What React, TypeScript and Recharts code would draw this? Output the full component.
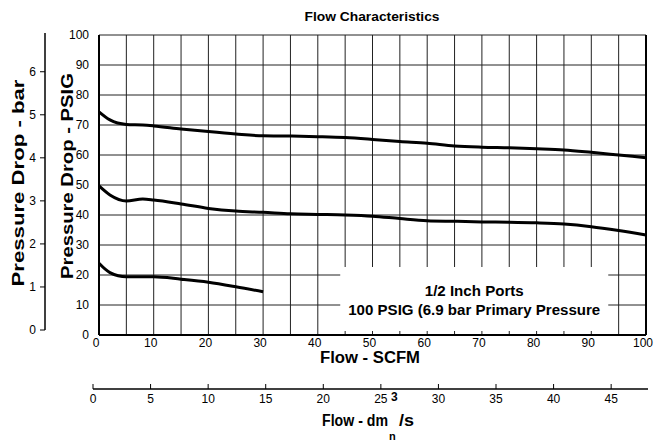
import React from 'react';
import { LineChart, Line, XAxis, YAxis, CartesianGrid, ReferenceArea } from 'recharts';

// ---------------------------------------------------------------------------
// Data
// ---------------------------------------------------------------------------

const flowTicks = [0, 5, 10, 15, 20, 25, 30, 35, 40, 45, 50, 55, 60, 65, 70, 75, 80, 85, 90, 95, 100];
const psigTicks = [0, 10, 20, 30, 40, 50, 60, 70, 80, 90, 100];
const barTicks = [0, 1, 2, 3, 4, 5, 6];
const dmTicks = [0, 5, 10, 15, 20, 25, 30, 35, 40, 45];

// SCFM values for the two long curves
const flowLong = [0, 2, 5, 8, 10, 15, 20, 25, 30, 35, 40, 45, 50, 55, 60, 65, 70, 75, 80, 85, 90, 95, 100];
const dropHigh = [74.4, 71.7, 70.2, 70, 69.7, 68.7, 67.8, 67, 66.4, 66.3, 66.1, 65.8, 65.2, 64.5, 63.9, 63, 62.6, 62.4, 62.1, 61.7, 60.9, 60, 59.1];
const dropMid = [49.7, 46.7, 44.7, 45.3, 45, 43.7, 42.2, 41.3, 40.9, 40.4, 40.2, 40, 39.6, 38.8, 38.1, 37.9, 37.7, 37.6, 37.4, 37, 36.1, 34.8, 33.3];

// short curve
const flowShort = [0, 2, 5, 10, 15, 20, 25, 30];
const dropLow = [23.9, 20.8, 19.4, 19.4, 18.6, 17.6, 16.1, 14.4];

const boxLines = ['1/2 Inch Ports', '100 PSIG (6.9 bar Primary Pressure'];

const FONT = '"Liberation Sans", Arial, Helvetica, sans-serif';

const toPoints = (xs: number[], ys: number[]) => xs.map((x, i) => ({ flow: x, drop: ys[i] }));

const highData = toPoints(flowLong, dropHigh);
const midData = toPoints(flowLong, dropMid);
const lowData = toPoints(flowShort, dropLow);

const tickStyle = { fill: '#000', fontSize: 12, fontFamily: FONT };

// ---------------------------------------------------------------------------
// Box label (two centred lines)
// ---------------------------------------------------------------------------

const BoxLabel = (props: any) => {
  const { viewBox } = props;
  if (!viewBox) return null;
  const cx = viewBox.x + viewBox.width / 2;
  return (
    <g fontFamily={FONT} fontWeight="bold" fontSize={14.5} fill="#000">
      <text x={cx} y={viewBox.y + 29} textAnchor="middle" textLength={99} lengthAdjust="spacingAndGlyphs">
        {boxLines[0]}
      </text>
      <text x={cx} y={viewBox.y + 48} textAnchor="middle" textLength={252} lengthAdjust="spacingAndGlyphs">
        {boxLines[1]}
      </text>
    </g>
  );
};

export default function App() {
  return (
    <div style={{ position: 'absolute', left: 0, top: 0, width: 669, height: 441, background: '#fff', fontFamily: FONT }}>
      {/* Main chart: PSIG vs SCFM */}
      <div style={{ position: 'absolute', left: 0, top: 0 }}>
        <LineChart width={669} height={441} margin={{ top: 35, right: 21, bottom: 76, left: 0 }}>
          <CartesianGrid stroke="#222" strokeWidth={1} />
          <XAxis
            type="number"
            dataKey="flow"
            domain={[0, 100]}
            ticks={flowTicks}
            interval={0}
            tickFormatter={(v: number) => (v % 10 === 0 ? String(v) : '')}
            tick={{ ...tickStyle, dx: -3 }}
            tickLine={false}
            tickSize={0}
            tickMargin={3}
            height={30}
            axisLine={{ stroke: '#000', strokeWidth: 2 }}
          />
          <YAxis
            type="number"
            domain={[0, 100]}
            ticks={psigTicks}
            interval={0}
            tick={tickStyle}
            tickLine={false}
            tickSize={6}
            tickMargin={4}
            width={99}
            axisLine={{ stroke: '#000', strokeWidth: 2 }}
          />
          <YAxis
            yAxisId="right"
            orientation="right"
            type="number"
            domain={[0, 100]}
            tick={false}
            tickLine={false}
            width={2}
            axisLine={{ stroke: '#000', strokeWidth: 2 }}
          />
          <ReferenceArea
            x1={44.1}
            x2={93.1}
            y1={1.3}
            y2={22.7}
            fill="#fff"
            fillOpacity={1}
            stroke="none"
            label={<BoxLabel />}
          />
          <Line data={highData} dataKey="drop" type="monotone" stroke="#000" strokeWidth={3} dot={false} isAnimationActive={false} />
          <Line data={midData} dataKey="drop" type="monotone" stroke="#000" strokeWidth={3} dot={false} isAnimationActive={false} />
          <Line data={lowData} dataKey="drop" type="monotone" stroke="#000" strokeWidth={3} dot={false} isAnimationActive={false} />
        </LineChart>
      </div>

      {/* Secondary axis: bar */}
      <div style={{ position: 'absolute', left: 0, top: 0 }}>
        <LineChart width={50} height={441} data={[{ v: 0 }, { v: 1 }]} margin={{ top: 33, right: 5, bottom: 111, left: 0 }}>
          <XAxis dataKey="v" hide />
          <YAxis
            type="number"
            domain={[0, 6.9]}
            ticks={barTicks}
            interval={0}
            tick={tickStyle}
            tickSize={5}
            tickMargin={4}
            width={45}
            allowDataOverflow
            axisLine={{ stroke: '#000', strokeWidth: 1.5 }}
            tickLine={{ stroke: '#000' }}
          />
        </LineChart>
      </div>

      {/* Secondary axis: dm3/s */}
      <div style={{ position: 'absolute', left: 0, top: 360 }}>
        <LineChart width={669} height={81} data={[{ v: 0 }, { v: 48.2 }]} margin={{ top: 9, right: 21, bottom: 12, left: 93 }}>
          <XAxis
            type="number"
            dataKey="v"
            domain={[0, 48.2]}
            ticks={dmTicks}
            interval={0}
            allowDataOverflow
            tick={tickStyle}
            tickSize={-5}
            tickMargin={10}
            height={40}
            axisLine={{ stroke: '#000', strokeWidth: 1.5 }}
            tickLine={{ stroke: '#000' }}
          />
          <YAxis hide domain={[0, 1]} />
        </LineChart>
      </div>

      {/* Titles and axis names */}
      <svg width={669} height={441} style={{ position: 'absolute', left: 0, top: 0, pointerEvents: 'none' }}>
        <g fontFamily={FONT} fontWeight="bold" fill="#000">
          <text x={372} y={21} fontSize={13} textAnchor="middle" textLength={135} lengthAdjust="spacingAndGlyphs">
            Flow Characteristics
          </text>
          <text transform="translate(24,183) rotate(-90)" fontSize={16} textAnchor="middle" textLength={207} lengthAdjust="spacingAndGlyphs">
            Pressure Drop - bar
          </text>
          <text transform="translate(73,176) rotate(-90)" fontSize={16} textAnchor="middle" textLength={206} lengthAdjust="spacingAndGlyphs">
            Pressure Drop - PSIG
          </text>
          <text x={370} y={363} fontSize={16} textAnchor="middle" textLength={100} lengthAdjust="spacingAndGlyphs">
            Flow - SCFM
          </text>
          <text x={322} y={426} fontSize={16} textLength={66} lengthAdjust="spacingAndGlyphs">
            Flow - dm
          </text>
          <text x={391} y={401} fontSize={12}>3</text>
          <text x={399} y={426} fontSize={16} textLength={15} lengthAdjust="spacingAndGlyphs">/s</text>
          <text x={389} y={440} fontSize={11}>n</text>
        </g>
      </svg>
    </div>
  );
}
